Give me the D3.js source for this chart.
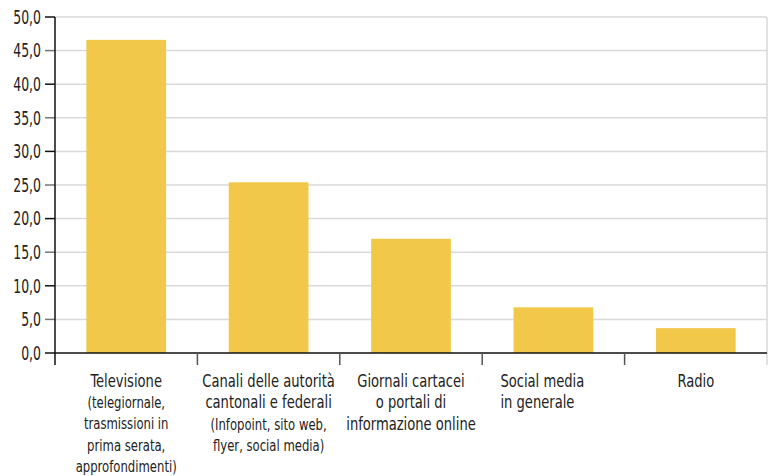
<!DOCTYPE html>
<html>
<head>
<meta charset="utf-8">
<script src="https://cdn.jsdelivr.net/npm/d3@7"></script>
<style>
	body { margin: 0; background: #fff; }
	text { font-family: "DejaVu Sans Condensed", "Liberation Sans Narrow", sans-serif; font-stretch: condensed; fill: #222; }
</style>
</head>
<body>
<svg id="chart0"></svg>
<script>
// dati
var categorie = ['Televisione', 'Canali delle autorità', 'Giornali cartacei', 'Social media', 'Radio'];
var titoli = [
	['Televisione'],
	['Canali delle autorità', 'cantonali e federali'],
	['Giornali cartacei', 'o portali di', 'informazione online'],
	['Social media', 'in generale'],
	['Radio']
];
var sottotitoli = [
	['(telegiornale,', 'trasmissioni in', 'prima serata,', 'approfondimenti)'],
	['(Infopoint, sito web,', 'flyer, social media)'],
	[],
	[],
	[]
];
var valori = [46.6, 25.4, 17.0, 6.8, 3.7];
var y_ticks = [0, 5, 10, 15, 20, 25, 30, 35, 40, 45, 50];

var width = 773;
var height = 476;
var margin = {'top': 17, 'bottom': 123, 'left': 55, 'right': 6};

var x_conv = d3.scaleBand()
	.domain(categorie)
	.range([margin.left, width - margin.right])
	.paddingInner(0.44)
	.paddingOuter(0.22);

var y_conv = d3.scaleLinear()
	.domain([0, 50])
	.range([height - margin.bottom, margin.top]);

var svg = d3.select('#chart0')
	.attr('width', width)
	.attr('height', height);

// griglia
svg.selectAll('line.grid')
	.data(y_ticks.filter(function(d) { return d > 0; })).enter()
	.append('line')
	.attr('class', 'grid')
	.attr('x1', margin.left)
	.attr('x2', width - margin.right)
	.attr('y1', function(d) { return y_conv(d); })
	.attr('y2', function(d) { return y_conv(d); })
	.attr('stroke', '#d9d9d9')
	.attr('stroke-width', 1.5);

svg.append('line')
	.attr('x1', width - margin.right)
	.attr('x2', width - margin.right)
	.attr('y1', margin.top)
	.attr('y2', y_conv(0) + 12)
	.attr('stroke', '#d9d9d9')
	.attr('stroke-width', 1.5);

// barre
svg.selectAll('rect.bar')
	.data(valori).enter()
	.append('rect')
	.attr('class', 'bar')
	.attr('x', function(d, i) { return x_conv(categorie[i]); })
	.attr('y', function(d) { return y_conv(d); })
	.attr('width', x_conv.bandwidth())
	.attr('height', function(d) { return y_conv(0) - y_conv(d); })
	.attr('fill', '#f2c84b');

// asse y
svg.selectAll('line.ytick')
	.data(y_ticks).enter()
	.append('line')
	.attr('x1', margin.left - 10)
	.attr('x2', margin.left)
	.attr('y1', function(d) { return y_conv(d); })
	.attr('y2', function(d) { return y_conv(d); })
	.attr('stroke', function(d) { return d % 10 == 0 ? '#111' : '#777'; })
	.attr('stroke-width', 1.5);

svg.selectAll('text.ylab')
	.data(y_ticks).enter()
	.append('text')
	.attr('transform', function(d) {
		return 'translate(' + (margin.left - 14) + ',' + y_conv(d) + ') scale(0.73,1)';
	})
	.attr('dy', '0.36em')
	.attr('text-anchor', 'end')
	.style('font-size', '19px')
	.text(function(d) { return d3.format('.1f')(d).replace('.', ','); });

svg.append('line')
	.attr('x1', margin.left)
	.attr('x2', margin.left)
	.attr('y1', margin.top)
	.attr('y2', y_conv(0) + 12)
	.attr('stroke', '#111')
	.attr('stroke-width', 1.5);

// asse x
svg.append('line')
	.attr('x1', margin.left)
	.attr('x2', width - margin.right)
	.attr('y1', y_conv(0))
	.attr('y2', y_conv(0))
	.attr('stroke', '#111')
	.attr('stroke-width', 1.5);

var step = x_conv.step();
svg.selectAll('line.xtick')
	.data(categorie.slice(1)).enter()
	.append('line')
	.attr('x1', function(d) { return x_conv(d) - step * x_conv.paddingInner() / 2; })
	.attr('x2', function(d) { return x_conv(d) - step * x_conv.paddingInner() / 2; })
	.attr('y1', y_conv(0))
	.attr('y2', y_conv(0) + 12)
	.attr('stroke', '#555')
	.attr('stroke-width', 1.5);

// etichette categorie
categorie.forEach(function(c, i) {
	var cx = x_conv(c) + x_conv.bandwidth() / 2;
	var anchor = 'middle';
	// "Social media" allineato a sinistra come nell'originale
	if (c == 'Social media') {
		cx = cx - 53;
		anchor = 'start';
	}
	var g = svg.append('text')
		.attr('transform', 'translate(' + cx + ',' + (y_conv(0) + 34) + ') scale(0.81,1)')
		.attr('text-anchor', anchor);
	titoli[i].forEach(function(t, k) {
		g.append('tspan')
			.attr('x', 0)
			.attr('dy', k == 0 ? 0 : 21.5)
			.style('font-size', '18px')
			.text(t);
	});
	sottotitoli[i].forEach(function(t) {
		g.append('tspan')
			.attr('x', 0)
			.attr('dy', 21.2)
			.style('font-size', '16px')
			.text(t);
	});
});
</script>
</body>
</html>
